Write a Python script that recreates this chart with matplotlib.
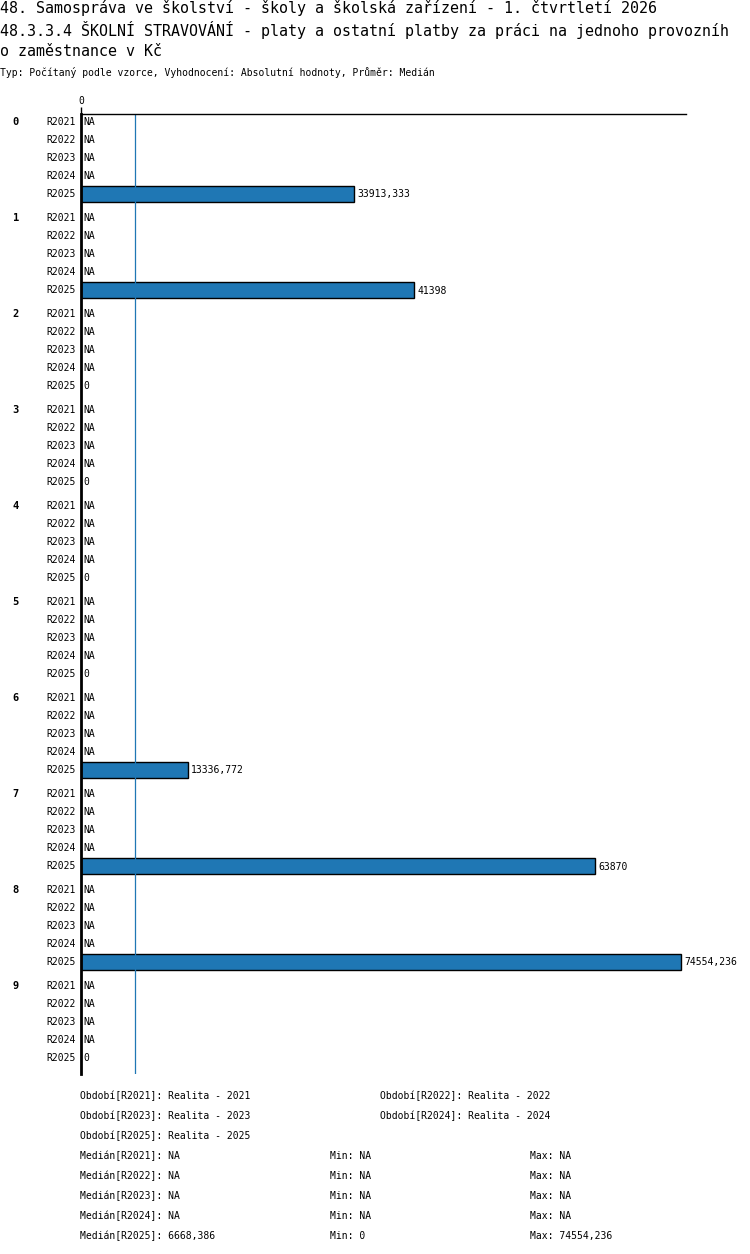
import matplotlib
matplotlib.use("Agg")
import matplotlib.pyplot as plt
import numpy as np

groups = ["0", "1", "2", "3", "4", "5", "6", "7", "8", "9"]
periods = ["R2021", "R2022", "R2023", "R2024", "R2025"]
# values per group, R2021..R2024 are missing (None = NA)
r2025 = [33913.333, 41398, 0, 0, 0, 0, 13336.772, 63870, 74554.236, 0]
values = [[None, None, None, None, v] for v in r2025]
median_2025 = 6668.386

title1 = "48. Samospráva ve školství - školy a školská zařízení - 1. čtvrtletí 2026"
title2 = "48.3.3.4 ŠKOLNÍ STRAVOVÁNÍ - platy a ostatní platby za práci na jednoho provozníh"
title3 = "o zaměstnance v Kč"
subtitle = "Typ: Počítaný podle vzorce, Vyhodnocení: Absolutní hodnoty, Průměr: Medián"

legend_obdobi = ["Období[R2021]: Realita - 2021", "Období[R2022]: Realita - 2022",
                 "Období[R2023]: Realita - 2023", "Období[R2024]: Realita - 2024",
                 "Období[R2025]: Realita - 2025"]
stats_median = ["Medián[R2021]: NA", "Medián[R2022]: NA", "Medián[R2023]: NA",
                "Medián[R2024]: NA", "Medián[R2025]: 6668,386"]
stats_min = ["Min: NA", "Min: NA", "Min: NA", "Min: NA", "Min: 0"]
stats_max = ["Max: NA", "Max: NA", "Max: NA", "Max: NA", "Max: 74554,236"]


def fmt(v):
    s = ("%.3f" % v).rstrip("0").rstrip(".")
    return s.replace(".", ",")


W, H = 750, 1254
MONO = "DejaVu Sans Mono"
BLUE = "#1f77b4"

fig = plt.figure(figsize=(W / 100, H / 100), dpi=100)
ax_l, ax_r, ax_t, ax_b = 81, 686, 114, 1074
ax = fig.add_axes([ax_l / W, 1 - ax_b / H, (ax_r - ax_l) / W, (ax_b - ax_t) / H])

row_h = 18
grp_h = 5 * row_h + 6
xmax = 74554.236 * (ax_r - ax_l) / 600.0
ax.set_xlim(0, xmax)
ax.set_ylim(ax_b - ax_t - 8, -8)

for g, name in enumerate(groups):
    for i, per in enumerate(periods):
        y = g * grp_h + i * row_h
        v = values[g][i]
        ax.text(-0.008 * xmax, y, per, ha="right", va="center", fontsize=7,
                family=MONO, clip_on=False)
        if v is None:
            ax.text(0.004 * xmax, y, "NA", ha="left", va="center", fontsize=7, family=MONO)
        elif v == 0:
            ax.text(0.004 * xmax, y, "0", ha="left", va="center", fontsize=7, family=MONO)
        else:
            ax.barh(y, v, height=15.5, color=BLUE, edgecolor="black", linewidth=1)
            ax.text(v + 0.005 * xmax, y + 0.5, fmt(v), ha="left", va="center",
                    fontsize=7, family=MONO)
    ax.text(-0.113 * xmax, g * grp_h, name, ha="left", va="center", fontsize=7.5,
            family=MONO, fontweight="bold", clip_on=False)

ax.axvline(median_2025, color=BLUE, linewidth=0.9)

for s in ["right", "bottom"]:
    ax.spines[s].set_visible(False)
ax.spines["left"].set_linewidth(2)
ax.spines["top"].set_linewidth(1)
ax.set_yticks([])
ax.xaxis.tick_top()
ax.set_xticks([0])
ax.set_xticklabels(["0"], fontsize=7, family=MONO)
ax.tick_params(axis="x", length=5, width=1, pad=1)

# titles
fig.text(0 / W, 1 - 8 / H, title1, fontsize=10.8, family=MONO, va="center")
fig.text(0 / W, 1 - 30 / H, title2, fontsize=10.8, family=MONO, va="center")
fig.text(0 / W, 1 - 51 / H, title3, fontsize=10.8, family=MONO, va="center")
fig.text(0 / W, 1 - 73 / H, subtitle, fontsize=7, family=MONO, va="center")

# footer
obd_pos = [(80, 1096), (380, 1096), (80, 1116), (380, 1116), (80, 1136)]
for (x, y), t in zip(obd_pos, legend_obdobi):
    fig.text(x / W, 1 - y / H, t, fontsize=7, family=MONO, va="center")
for k in range(5):
    y = 1156 + 20 * k
    fig.text(80 / W, 1 - y / H, stats_median[k], fontsize=7, family=MONO, va="center")
    fig.text(330 / W, 1 - y / H, stats_min[k], fontsize=7, family=MONO, va="center")
    fig.text(530 / W, 1 - y / H, stats_max[k], fontsize=7, family=MONO, va="center")

fig.savefig("out.png", dpi=100)
